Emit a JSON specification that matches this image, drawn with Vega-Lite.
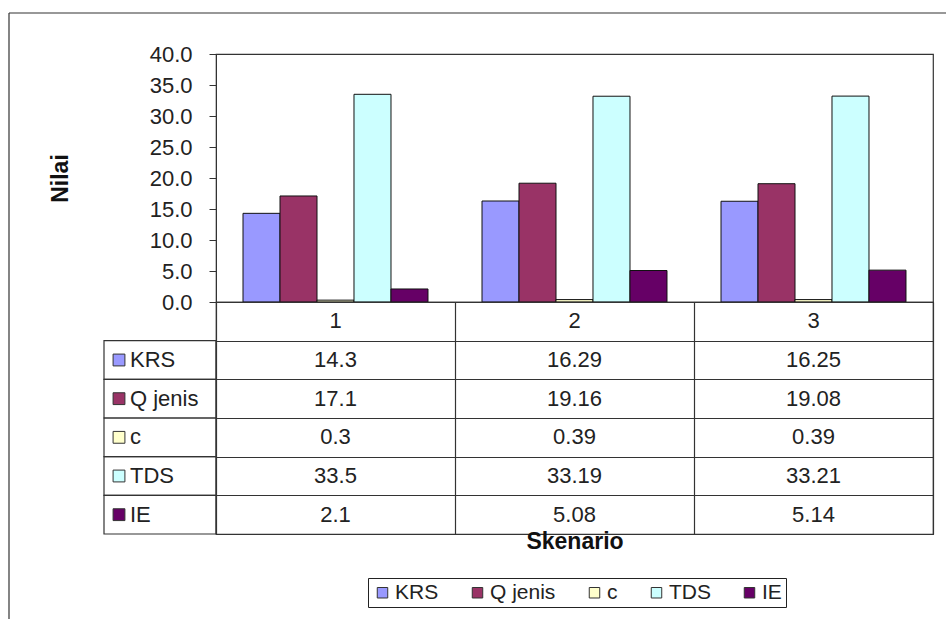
{
  "$schema": "https://vega.github.io/schema/vega-lite/v6.json",
  "padding": {"left": 8, "top": 12, "right": 0, "bottom": 0},
  "background": "white",
  "datasets": {
    "vals": [
      {"skenario": "1", "parameter": "KRS", "nilai": 14.3},
      {"skenario": "1", "parameter": "Q jenis", "nilai": 17.1},
      {"skenario": "1", "parameter": "c", "nilai": 0.3},
      {"skenario": "1", "parameter": "TDS", "nilai": 33.5},
      {"skenario": "1", "parameter": "IE", "nilai": 2.1},
      {"skenario": "2", "parameter": "KRS", "nilai": 16.29},
      {"skenario": "2", "parameter": "Q jenis", "nilai": 19.16},
      {"skenario": "2", "parameter": "c", "nilai": 0.39},
      {"skenario": "2", "parameter": "TDS", "nilai": 33.19},
      {"skenario": "2", "parameter": "IE", "nilai": 5.08},
      {"skenario": "3", "parameter": "KRS", "nilai": 16.25},
      {"skenario": "3", "parameter": "Q jenis", "nilai": 19.08},
      {"skenario": "3", "parameter": "c", "nilai": 0.39},
      {"skenario": "3", "parameter": "TDS", "nilai": 33.21},
      {"skenario": "3", "parameter": "IE", "nilai": 5.14}
    ]
  },
  "bounds": "flush",
  "spacing": 0,
  "columns": 2,
  "resolve": {"scale": {"x": "independent", "y": "independent", "color": "independent"}},
  "concat": [
    {
      "width": 112,
      "height": 248,
      "view": {"stroke": null},
      "data": {"values": [{}]},
      "encoding": {
        "x": {"datum": 0, "type": "quantitative", "scale": {"domain": [0, 1]}, "axis": null},
        "y": {"datum": 1, "type": "quantitative", "scale": {"domain": [0, 1]}, "axis": null}
      },
      "layer": [
        {
          "mark": {"type": "rule", "stroke": "#333", "strokeWidth": 1.2, "xOffset": -95, "x2Offset": 730, "yOffset": -41},
          "encoding": {"x2": {"datum": 1}}
        },
        {
          "mark": {"type": "rule", "stroke": "#333", "strokeWidth": 1.2, "xOffset": -95, "yOffset": -41, "y2Offset": 317},
          "encoding": {"y2": {"datum": 0}}
        }
      ]
    },
    {
      "width": 717,
      "height": 248,
      "data": {"name": "vals"},
      "mark": {"type": "bar", "stroke": "#111", "strokeWidth": 1},
      "encoding": {
        "x": {"field": "skenario", "type": "nominal", "scale": {"paddingInner": 0, "paddingOuter": 0}, "axis": null},
        "xOffset": {"field": "parameter", "type": "nominal", "scale": {"domain": ["KRS", "Q jenis", "c", "TDS", "IE"], "paddingInner": 0, "paddingOuter": 0.73}},
        "y": {
          "field": "nilai", "type": "quantitative",
          "scale": {"domain": [0, 40]},
          "axis": {
            "values": [0, 5, 10, 15, 20, 25, 30, 35, 40],
            "format": ".1f",
            "grid": false,
            "labelFontSize": 22,
            "labelColor": "#222",
            "labelPadding": 17,
            "tickSize": 7,
            "tickColor": "#333",
            "domainColor": "#333",
            "title": "Nilai",
            "titleFontSize": 23,
            "titleFontWeight": "bold",
            "titleColor": "#111",
            "titlePadding": 77
          }
        },
        "color": {
          "field": "parameter", "type": "nominal",
          "scale": {"domain": ["KRS", "Q jenis", "c", "TDS", "IE"], "range": ["#9999ff", "#993366", "#ffffcc", "#ccffff", "#660066"]},
          "legend": {
            "orient": "none",
            "legendX": 152,
            "legendY": 524,
            "direction": "horizontal",
            "title": null,
            "symbolType": "square",
            "symbolSize": 110,
            "symbolStrokeColor": "#333",
            "symbolStrokeWidth": 1,
            "labelFontSize": 21,
            "labelColor": "#222",
            "labelOffset": 2,
            "columnPadding": 28,
            "padding": 4,
            "strokeColor": "#222",
            "fillColor": "white"
          }
        }
      }
    },
    {
      "width": 112,
      "height": 232,
      "view": {"stroke": null},
      "data": {"name": "vals"},
      "transform": [{"filter": "datum.skenario == '1'"}],
      "encoding": {
        "y": {"field": "parameter", "type": "nominal", "scale": {"domain": ["Skenario", "KRS", "Q jenis", "c", "TDS", "IE"], "paddingInner": 0, "paddingOuter": 0}, "axis": null}
      },
      "layer": [
        {"mark": {"type": "rect", "fill": null, "stroke": "#333", "strokeWidth": 1.2}},
        {
          "mark": {"type": "point", "shape": "square", "filled": true, "size": 140, "stroke": "#333", "strokeWidth": 1, "opacity": 1, "xOffset": -41},
          "encoding": {
            "color": {"field": "parameter", "type": "nominal", "scale": {"domain": ["KRS", "Q jenis", "c", "TDS", "IE"], "range": ["#9999ff", "#993366", "#ffffcc", "#ccffff", "#660066"]}, "legend": null}
          }
        },
        {
          "mark": {"type": "text", "align": "left", "baseline": "middle", "dx": -30, "fontSize": 22, "color": "#222"},
          "encoding": {"text": {"field": "parameter"}}
        }
      ]
    },
    {
      "width": 717,
      "height": 232,
      "encoding": {
        "x": {
          "field": "skenario", "type": "nominal",
          "scale": {"paddingInner": 0, "paddingOuter": 0},
          "axis": {"orient": "bottom", "grid": true, "tickBand": "extent", "gridColor": "#333", "gridOpacity": 1, "gridWidth": 1.2, "labels": false, "ticks": false, "domain": false, "title": "Skenario", "titleFontSize": 23, "titleFontWeight": "bold", "titleColor": "#111", "titlePadding": -4}
        }
      },
      "layer": [
        {
          "data": {"name": "vals"},
          "transform": [{"filter": "datum.parameter == 'KRS'"}],
          "mark": {"type": "text", "fontSize": 22, "color": "#222", "baseline": "middle"},
          "encoding": {
            "y": {"datum": "Skenario", "type": "nominal", "scale": {"domain": ["Skenario", "KRS", "Q jenis", "c", "TDS", "IE"], "paddingInner": 0, "paddingOuter": 0}, "axis": {"grid": true, "tickBand": "extent", "gridColor": "#333", "gridOpacity": 1, "gridWidth": 1.2, "labels": false, "ticks": false, "domain": false, "title": null}},
            "text": {"field": "skenario"}
          }
        },
        {
          "data": {"name": "vals"},
          "mark": {"type": "text", "fontSize": 22, "color": "#222", "baseline": "middle"},
          "encoding": {
            "y": {"field": "parameter", "type": "nominal"},
            "text": {"field": "nilai", "type": "quantitative"}
          }
        }
      ]
    }
  ],
  "config": {
    "font": "Liberation Sans",
    "view": {"stroke": "#333", "strokeWidth": 1.2}
  }
}
